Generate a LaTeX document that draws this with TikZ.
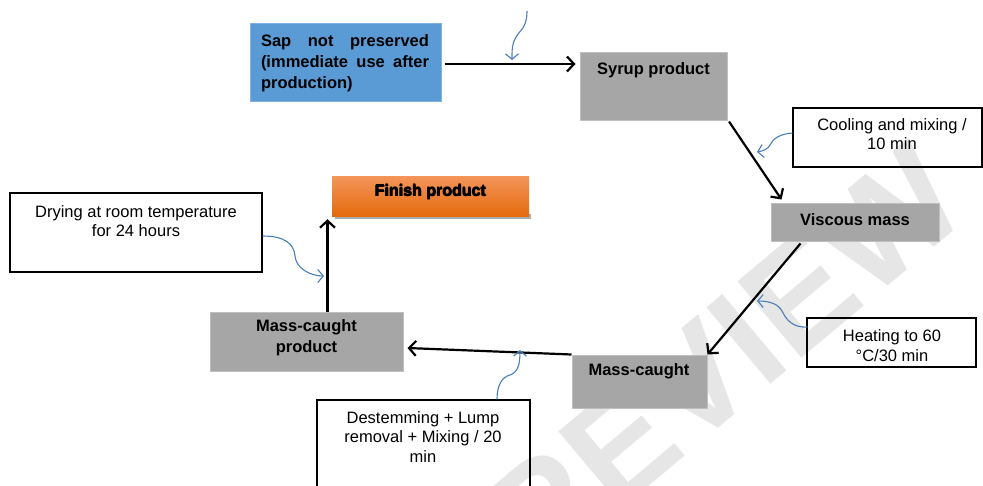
\documentclass[tikz,border=0pt]{standalone}
\usepackage{fontspec}
\setmainfont{Liberation Sans}
\usetikzlibrary{arrows.meta}
\definecolor{boxgray}{HTML}{A6A6A6}
\definecolor{boxedge}{HTML}{BFBFBF}
\definecolor{sapblue}{HTML}{5B9BD5}
\definecolor{sapedge}{HTML}{7FB2E0}
\definecolor{curveblue}{HTML}{4A7EBB}
\definecolor{orangetop}{HTML}{F4955A}
\definecolor{orangebot}{HTML}{E46B0E}
\definecolor{wmgray}{HTML}{E6E6E6}
\begin{document}
\begin{tikzpicture}[x=1pt,y=-1pt,
  graybox/.style={draw=boxedge, line width=1pt, fill=boxgray, inner sep=0pt},
  bluebox/.style={draw=sapedge, line width=1pt, fill=sapblue, inner sep=0pt},
  whitebox/.style={draw=black, line width=1.1pt, inner sep=0pt},
  boldtxt/.style={font=\fontsize{16.5}{21}\selectfont\bfseries, align=center, inner sep=0pt},
  plaintxt/.style={font=\fontsize{16.5}{19.5}\selectfont, align=center, inner sep=0pt},
  fintxt/.style={font=\fontsize{16}{18}\selectfont\bfseries, inner sep=0pt},
  flow/.style={line width=2.2pt, -{Straight Barb[length=7pt,width=15pt,line width=2.2pt]}},
  note/.style={curveblue, line width=1.1pt, -{Straight Barb[length=5.5pt,width=13pt,line width=1.1pt]}}]
\useasboundingbox (0,0) rectangle (983,485);
% watermark
\node[wmgray, rotate=40, inner sep=0pt, font=\fontsize{145}{145}\selectfont\bfseries] (wm) at (722,360) {REVIEW};
% boxes
\node[bluebox, minimum width=191pt, minimum height=78pt] (sap) at (345.5,62) {};
\node[boldtxt, text width=168pt, align=justify] (sapt) at (345,63) {Sap not preserved\linebreak (immediate use after\linebreak production)};
\node[graybox, minimum width=147pt, minimum height=68pt] (syrup) at (653.5,86) {};
\node[boldtxt] (syrupt) at (653.5,70) {Syrup product};
\node[whitebox, minimum width=189pt, minimum height=59pt] (cool) at (887.5,137.5) {};
\node[plaintxt] (coolt) at (892,134) {Cooling and mixing /\\10 min};
\node[graybox, minimum width=168pt, minimum height=38pt] (visc) at (855,222) {};
\node[boldtxt] (visct) at (855,220) {Viscous mass};
\node[whitebox, minimum width=169pt, minimum height=49pt] (heat) at (891.5,342.5) {};
\node[plaintxt] (heatt) at (892,345.5) {Heating to 60\\°C/30 min};
\node[graybox, minimum width=135pt, minimum height=53pt] (mc) at (639.5,381.5) {};
\node[boldtxt] (mct) at (639,371) {Mass-caught};
\node[graybox, minimum width=193pt, minimum height=59pt] (mcp) at (306.5,341.5) {};
\node[boldtxt] (mcpt) at (306.5,338) {Mass-caught\\product};
\fill[gray!65] (334.5,214) rectangle (531,218.5);
\node[top color=orangetop, bottom color=orangebot, minimum width=197pt, minimum height=40pt, inner sep=0pt] (finish) at (430.5,196) {};
\node[fintxt] (fint) at (430,192) {Finish product};
\node[fintxt] (fint2) at (430.8,192.5) {Finish product};
\node[fintxt] (fint3) at (430.4,191.6) {Finish product};
\node[whitebox, minimum width=252pt, minimum height=79pt] (dry) at (136,232.5) {};
\node[plaintxt] (dryt) at (136,221) {Drying at room temperature\\for 24 hours};
\node[whitebox, minimum width=213pt, minimum height=95pt] (dest) at (423.5,447.5) {};
\node[plaintxt] (destt) at (423,437) {Destemming + Lump\\removal + Mixing / 20\\min};
% flow arrows
\coordinate (s1) at ([xshift=3pt,yshift=-2pt]sap.east);
\coordinate (s2) at (s1 -| syrup.west);
\draw[flow, shorten >=4pt] (s1) -- (s2);
\draw[flow] ([shift={(1.5pt,-1pt)}]syrup.south east) -- ([shift={(11pt,3pt)}]visc.north west);
\draw[flow] ([shift={(30pt,-2pt)}]visc.south west) -- (mc.north east);
\draw[flow] (mc.north west) -- ([shift={(4pt,-6.5pt)}]mcp.east);
\coordinate (f1) at ([xshift=118pt]mcp.north west);
\coordinate (f2) at (f1 |- finish.south);
\draw[flow, shorten >=3pt] (f1) -- (f2);
% blue notes
\coordinate (n1) at (527,11);
\draw[note] (n1) .. controls (527,28) and (520,30) .. (516,37) .. controls (512,43) and (512,50) .. (512,60);
\draw[note] ([yshift=4.5pt]cool.west) .. controls (779,134) and (773,139) .. (770,145) .. controls (768,149) and (763,151) .. (757,152);
\draw[note] ([shift={(1pt,15.5pt)}]heat.west) .. controls (792,328) and (786,319) .. (782,311) .. controls (778,304) and (770,301) .. (757,301);
\draw[note] ([xshift=73.5pt]dest.north) .. controls (497,385) and (502,377) .. (510,375) .. controls (518,372) and (520,365) .. (520,350);
\draw[note] ([yshift=-3.5pt]dry.east) .. controls (285,236) and (294,244) .. (295,256) .. controls (296,268) and (310,276) .. (324,276);
\end{tikzpicture}
\end{document}
